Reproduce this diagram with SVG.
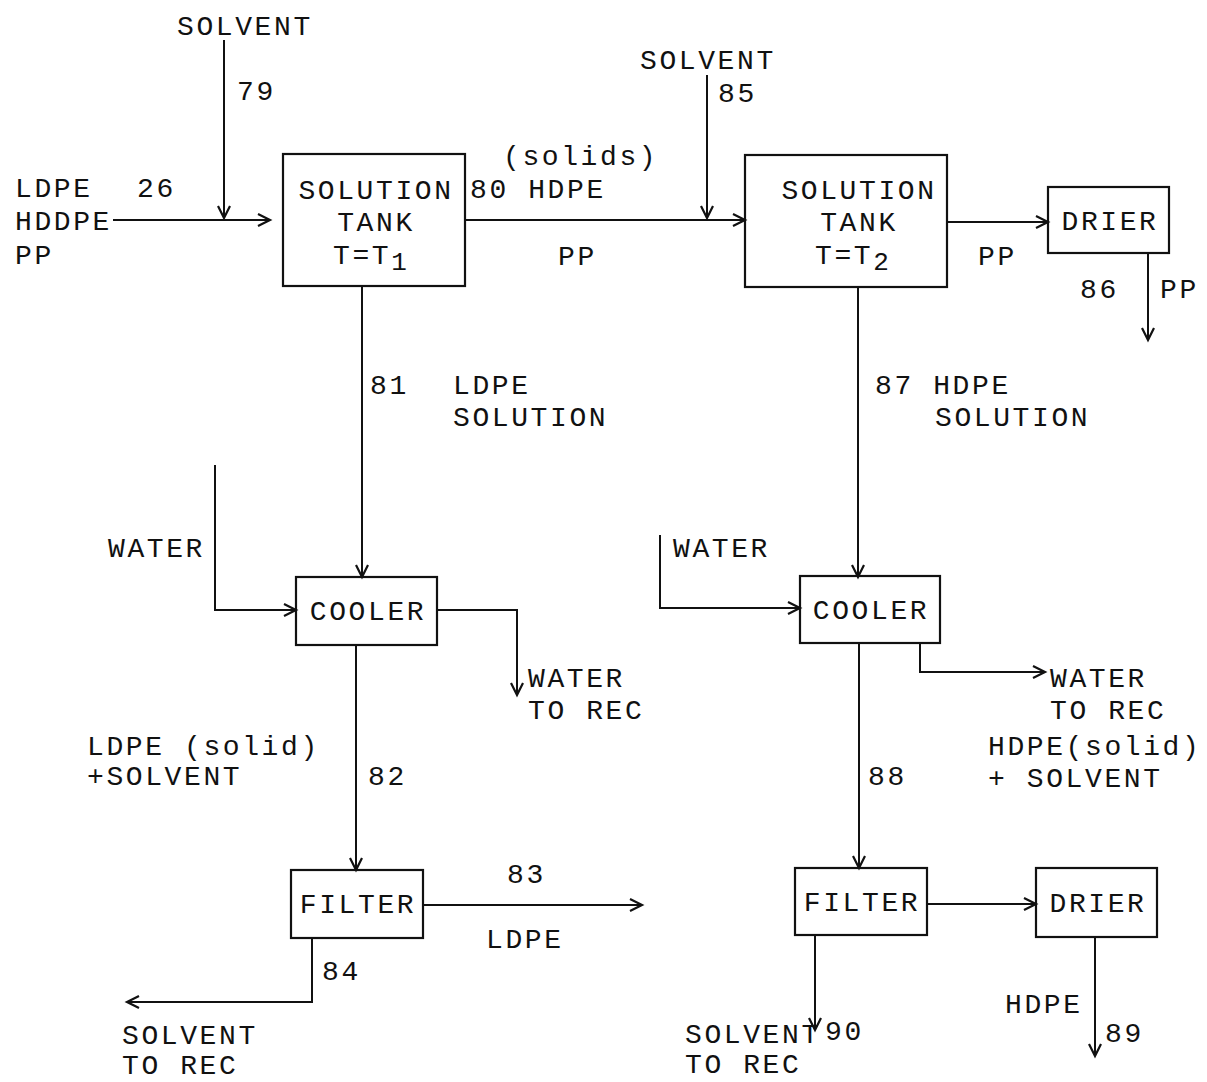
<svg xmlns="http://www.w3.org/2000/svg" width="1207" height="1082" viewBox="0 0 1207 1082">
<style>
text{font-family:"Liberation Mono","Courier New",monospace;font-size:28px;letter-spacing:2.6px;fill:#111}
.c{text-anchor:middle}
.box{fill:none;stroke:#111;stroke-width:2.2}
.ln{fill:none;stroke:#111;stroke-width:2;marker-end:url(#ah)}
</style>
<defs>
<marker id="ah" markerUnits="userSpaceOnUse" markerWidth="16" markerHeight="16" refX="13" refY="7" orient="auto">
<path d="M1,1 L13,7 L1,13" fill="none" stroke="#111" stroke-width="2.2"/>
</marker>
</defs>
<rect width="1207" height="1082" fill="#fff"/>
<g id="connectors">
<path class="ln" d="M224,40 V218"/>
<path class="ln" d="M113,220 H270"/>
<path class="ln" d="M465,220 H745"/>
<path class="ln" d="M707,75 V218"/>
<path class="ln" d="M947,222 H1048"/>
<path class="ln" d="M1148,253 V340"/>
<path class="ln" d="M362,286 V577"/>
<path class="ln" d="M215,465 V610 H296"/>
<path class="ln" d="M437,610 H517 V695"/>
<path class="ln" d="M356,645 V870"/>
<path class="ln" d="M423,905 H642"/>
<path class="ln" d="M312,938 V1002 H127"/>
<path class="ln" d="M858,287 V577"/>
<path class="ln" d="M660,535 V608 H800"/>
<path class="ln" d="M920,643 V672 H1045"/>
<path class="ln" d="M859,643 V868"/>
<path class="ln" d="M927,904 H1036"/>
<path class="ln" d="M815,935 V1030"/>
<path class="ln" d="M1095,937 V1056"/>
</g>
<g id="tank1">
<rect class="box" x="283" y="154" width="182" height="132"/>
<text class="c" x="376" y="199">SOLUTION</text>
<text class="c" x="376" y="231">TANK</text>
<text x="333" y="264">T=T<tspan font-size="26" dy="6">1</tspan></text>
</g>
<g id="tank2">
<rect class="box" x="745" y="155" width="202" height="132"/>
<text class="c" x="859" y="199">SOLUTION</text>
<text class="c" x="859" y="231">TANK</text>
<text x="815" y="264">T=T<tspan font-size="26" dy="6">2</tspan></text>
</g>
<g id="drier1">
<rect class="box" x="1048" y="187" width="121" height="66"/>
<text class="c" x="1110" y="230">DRIER</text>
</g>
<g id="cooler1">
<rect class="box" x="296" y="577" width="141" height="68"/>
<text class="c" x="368" y="620">COOLER</text>
</g>
<g id="cooler2">
<rect class="box" x="800" y="576" width="140" height="67"/>
<text class="c" x="871" y="619">COOLER</text>
</g>
<g id="filter1">
<rect class="box" x="291" y="870" width="132" height="68"/>
<text class="c" x="358" y="913">FILTER</text>
</g>
<g id="filter2">
<rect class="box" x="795" y="868" width="132" height="67"/>
<text class="c" x="862" y="911">FILTER</text>
</g>
<g id="drier2">
<rect class="box" x="1036" y="868" width="121" height="69"/>
<text class="c" x="1098" y="912">DRIER</text>
</g>
<g id="labels">
<text x="177" y="35">SOLVENT</text>
<text x="237" y="100">79</text>
<text x="15" y="197">LDPE</text>
<text x="137" y="197">26</text>
<text x="15" y="230">HDDPE</text>
<text x="15" y="264">PP</text>
<text x="503" y="165">(solids)</text>
<text x="470" y="198">80 HDPE</text>
<text x="558" y="265">PP</text>
<text x="640" y="69">SOLVENT</text>
<text x="718" y="102">85</text>
<text x="978" y="265">PP</text>
<text x="1080" y="298">86</text>
<text x="1160" y="298">PP</text>
<text x="370" y="394">81</text>
<text x="453" y="394">LDPE</text>
<text x="453" y="426">SOLUTION</text>
<text x="875" y="394">87 HDPE</text>
<text x="935" y="426">SOLUTION</text>
<text x="108" y="557">WATER</text>
<text x="673" y="557">WATER</text>
<text x="528" y="687">WATER</text>
<text x="528" y="719">TO REC</text>
<text x="1050" y="687">WATER</text>
<text x="1050" y="719">TO REC</text>
<text x="87" y="755">LDPE (solid)</text>
<text x="87" y="785">+SOLVENT</text>
<text x="368" y="785">82</text>
<text x="868" y="785">88</text>
<text x="988" y="755">HDPE(solid)</text>
<text x="988" y="787">+ SOLVENT</text>
<text x="507" y="883">83</text>
<text x="486" y="948">LDPE</text>
<text x="322" y="980">84</text>
<text x="122" y="1044">SOLVENT</text>
<text x="122" y="1074">TO REC</text>
<text x="825" y="1040">90</text>
<text x="685" y="1043">SOLVENT</text>
<text x="685" y="1073">TO REC</text>
<text x="1005" y="1013">HDPE</text>
<text x="1105" y="1042">89</text>
</g>
</svg>
